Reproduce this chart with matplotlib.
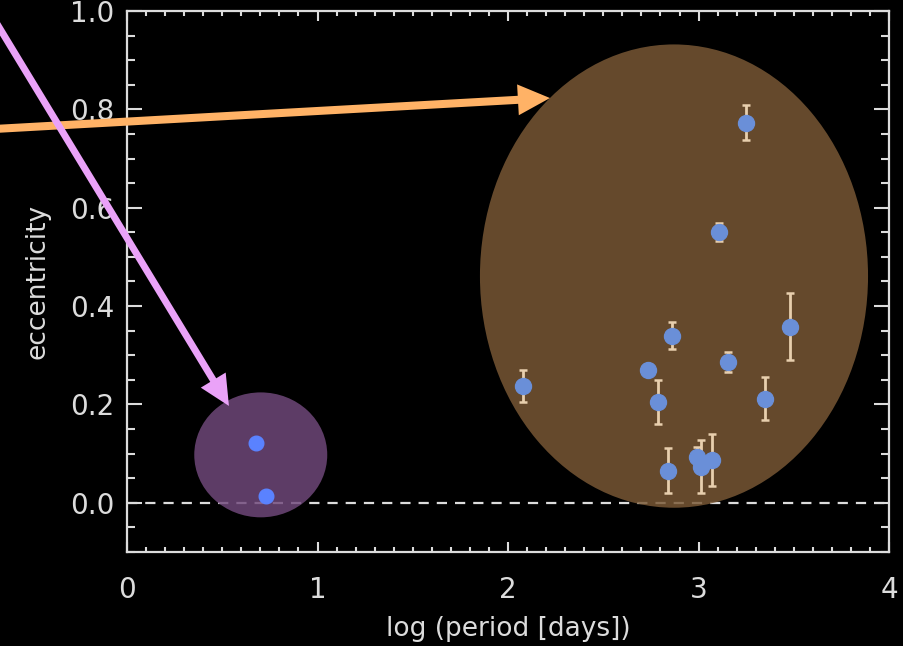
import numpy as np
import matplotlib
matplotlib.use("Agg")
import matplotlib.pyplot as plt
from matplotlib.patches import Ellipse
from matplotlib.ticker import MultipleLocator

# long-period planets (inside the brown ellipse), with error bars
logp_long = [2.08, 2.737, 2.789, 2.859, 2.838, 2.99, 3.013, 3.069, 3.108, 3.153, 3.248, 3.349, 3.480]
ecc_long = [0.237, 0.270, 0.205, 0.340, 0.065, 0.094, 0.073, 0.087, 0.551, 0.286, 0.773, 0.212, 0.358]
err_long = [0.033, 0.012, 0.044, 0.027, 0.046, 0.020, 0.054, 0.053, 0.018, 0.020, 0.035, 0.044, 0.068]

# short-period planets (inside the purple circle)
logp_short = [0.677, 0.728]
ecc_short = [0.121, 0.014]

fg = "#dcdcdc"

fig = plt.figure(figsize=(9.04, 6.46), dpi=100, facecolor="black")
ax = fig.add_axes([0.1405, 0.1455, 0.843, 0.8375], facecolor="black")

ax.set_xlim(0, 4)
ax.set_ylim(-0.1, 1.0)

# zero line
ax.axhline(0, color=fg, lw=1.6, dashes=(4.6, 3.6), zorder=1)

# groups
ax.add_patch(Ellipse((2.871, 0.461), 2.037, 0.942, facecolor="#7a5936",
                     edgecolor="none", alpha=0.83, zorder=2))
ax.add_patch(Ellipse((0.702, 0.0975), 0.698, 0.254, facecolor="#71497c",
                     edgecolor="none", alpha=0.83, zorder=2))

ax.errorbar(logp_long, ecc_long, yerr=err_long, fmt="o", ms=11.5,
            mfc="#6a8fd8", mec="#6a8fd8", ecolor="#e8cfae", elinewidth=2,
            capsize=3, capthick=1.8, zorder=3)
ax.plot(logp_short, ecc_short, "o", ms=10.5, color="#5a82ff", zorder=3)

# arrows pointing at the two groups
ax.annotate("", xy=(2.22, 0.823), xytext=(-0.70, 0.760),
            xycoords="data", annotation_clip=False,
            arrowprops=dict(arrowstyle="-|>,head_length=1.35,head_width=0.65",
                            color="#ffb266", lw=5.8, shrinkA=0, shrinkB=0,
                            joinstyle="miter", capstyle="butt"),
            zorder=5)
ax.annotate("", xy=(0.535, 0.197), xytext=(-0.70, 0.985),
            xycoords="data", annotation_clip=False,
            arrowprops=dict(arrowstyle="-|>,head_length=1.35,head_width=0.65",
                            color="#eaa2f8", lw=5.0, shrinkA=0, shrinkB=0,
                            joinstyle="miter", capstyle="butt"),
            zorder=5)

for s in ax.spines.values():
    s.set_color(fg)
    s.set_linewidth(1.6)

ax.xaxis.set_major_locator(MultipleLocator(1))
ax.xaxis.set_minor_locator(MultipleLocator(0.1))
ax.yaxis.set_major_locator(MultipleLocator(0.2))
ax.yaxis.set_minor_locator(MultipleLocator(0.05))
ax.tick_params(axis="both", which="both", direction="in", colors=fg,
               top=True, right=True, width=1.5, labelsize=20)
ax.tick_params(axis="x", which="major", length=7.5, pad=17)
ax.tick_params(axis="x", which="minor", length=3.8)
ax.tick_params(axis="y", which="major", length=11, pad=9)
ax.tick_params(axis="y", which="minor", length=6)
ax.yaxis.set_major_formatter(matplotlib.ticker.FormatStrFormatter("%.1f"))

ax.set_xlabel("log (period [days])", color=fg, fontsize=19, labelpad=9)
ax.set_ylabel("eccentricity", color=fg, fontsize=19, labelpad=14)

fig.savefig("out.png", dpi=100, facecolor="black")
